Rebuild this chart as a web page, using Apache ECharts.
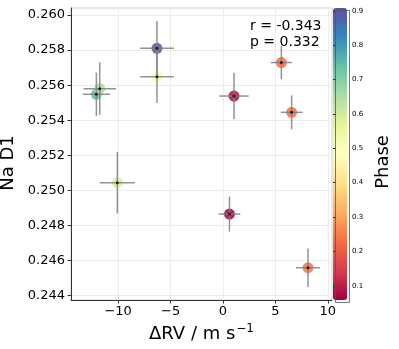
<!DOCTYPE html>
<html>
<head>
<meta charset="utf-8">
<script src="https://cdn.jsdelivr.net/npm/echarts@6/dist/echarts.min.js"></script>
<style>
  html, body { margin: 0; padding: 0; background: #fff; }
  #chart { width: 399px; height: 349px; }
</style>
</head>
<body>
<div id="chart"></div>
<script>
// values
const rvValues = [-12.08, -11.76, -6.30, -6.30, 1.05, 5.57, 6.55, -10.08, 0.62, 8.11]
const rvErrors = [1.30, 1.55, 1.62, 1.60, 1.40, 1.00, 1.05, 1.67, 1.03, 1.14]
const naValues = [0.25548, 0.25580, 0.25810, 0.25648, 0.25538, 0.25729, 0.25445, 0.25044, 0.24865, 0.24559]
const naErrors = [0.00124, 0.00150, 0.00156, 0.00150, 0.00133, 0.00095, 0.00097, 0.00176, 0.00100, 0.00110]
const phases = [0.74, 0.65, 0.908, 0.52, 0.075, 0.228, 0.23, 0.59, 0.0586, 0.237]

const xTicks = [-10, -5, 0, 5, 10]
const yTicks = [0.244, 0.246, 0.248, 0.250, 0.252, 0.254, 0.256, 0.258, 0.260]
const phaseTicks = [0.1, 0.2, 0.3, 0.4, 0.5, 0.6, 0.7, 0.8, 0.9]
const statText = ['r = -0.343', 'p = 0.332']

// matplotlib "Spectral", low -> high
const spectral = ['#9e0142', '#d53e4f', '#f46d43', '#fdae61', '#fee08b', '#ffffbf',
  '#e6f598', '#abdda4', '#66c2a5', '#3288bd', '#5e4fa2']

const FONT = 'DejaVu Sans'
const phaseMin = Math.min(...phases)
const phaseMax = Math.max(...phases)

const pts = rvValues.map((x, i) => [x, naValues[i], phases[i]])
const errs = rvValues.map((x, i) => [x, naValues[i], rvErrors[i], naErrors[i]])

const minus = v => String(v).replace('-', '\u2212')

let chart = echarts.init(document.getElementById('chart'), null, { renderer: 'canvas' })

let option = {
  animation: false,
  textStyle: { fontFamily: FONT },
  grid: [
    { left: 71, right: 67, top: 8, bottom: 49, show: true, borderColor: '#d0d0d0', borderWidth: 1, outerBoundsMode: 'none' },
    { left: 333, width: 14, top: 8, height: 292, show: false, outerBoundsMode: 'none' }
  ],
  xAxis: [
    {
      type: 'value', min: -14.5, max: 10.4,
      name: 'ΔRV / m s{sup|\u22121}',
      nameLocation: 'middle', nameGap: 5,
      nameTextStyle: {
        fontSize: 18, color: '#000', fontFamily: FONT,
        rich: { sup: { fontSize: 12, color: '#000', fontFamily: FONT, verticalAlign: 'top', padding: [0, 0, 10, 1] } }
      },
      axisLine: { show: true, onZero: false, lineStyle: { color: '#333', width: 1 } },
      axisTick: { show: true, length: 3.5, customValues: xTicks, lineStyle: { color: '#333' } },
      axisLabel: { customValues: xTicks, fontSize: 13, color: '#000', margin: 5, formatter: v => minus(v) },
      splitLine: { show: true, lineStyle: { color: '#ececec', width: 1 } }
    },
    { gridIndex: 1, type: 'value', min: 0, max: 1, show: false }
  ],
  yAxis: [
    {
      type: 'value', min: 0.24375, max: 0.2604,
      name: 'Na D1',
      nameLocation: 'middle', nameGap: 40, nameRotate: 90,
      nameTextStyle: { fontSize: 18, color: '#000', fontFamily: FONT, padding: [0, 18, 0, 0] },
      axisLine: { show: true, onZero: false, lineStyle: { color: '#333', width: 1 } },
      axisTick: { show: true, length: 3.5, customValues: yTicks, lineStyle: { color: '#333' } },
      axisLabel: { customValues: yTicks, fontSize: 13, color: '#000', margin: 6, formatter: v => v.toFixed(3) },
      splitLine: { show: true, lineStyle: { color: '#ececec', width: 1 } }
    },
    {
      gridIndex: 1, type: 'value', position: 'right', min: phaseMin, max: phaseMax, z: 10,
      name: 'Phase',
      nameLocation: 'middle', nameGap: 27, nameRotate: 90,
      nameTextStyle: { fontSize: 18, color: '#000', fontFamily: FONT, padding: [0, 16, 0, 0] },
      axisLine: { show: false },
      axisTick: { show: true, length: 3, customValues: phaseTicks, lineStyle: { color: '#333' } },
      axisLabel: { customValues: phaseTicks, fontSize: 7, color: '#000', margin: 5, formatter: v => v.toFixed(1) },
      splitLine: { show: false }
    }
  ],
  visualMap: {
    type: 'continuous',
    seriesIndex: 0,
    dimension: 2,
    min: phaseMin, max: phaseMax,
    calculable: false,
    hoverLink: false,
    left: 333, top: 8,
    itemWidth: 14, itemHeight: 292,
    padding: 0,
    borderWidth: 0,
    inRange: { color: spectral }
  },
  graphic: [
    {
      type: 'text', left: 250, top: 18, z: 20,
      style: { text: statText.join('\n'), fontSize: 14, lineHeight: 16.5, fill: '#000', fontFamily: FONT }
    },
    {
      type: 'rect', left: 333, top: 8, z: 20, silent: true,
      shape: { width: 14, height: 292 },
      style: { fill: 'none', stroke: '#555', lineWidth: 0.8 }
    }
  ],
  series: [
    {
      // coloured markers
      type: 'scatter',
      data: pts,
      symbolSize: 11,
      itemStyle: { opacity: 0.85 },
      z: 2
    },
    {
      // error bars
      type: 'custom',
      data: errs,
      z: 3,
      renderItem: (params, api) => {
        const x = api.value(0)
        const y = api.value(1)
        const xe = api.value(2)
        const ye = api.value(3)
        const l = api.coord([x - xe, y])
        const r = api.coord([x + xe, y])
        const t = api.coord([x, y + ye])
        const b = api.coord([x, y - ye])
        const style = { stroke: 'rgba(128,128,128,0.85)', lineWidth: 1.5 }
        return {
          type: 'group',
          children: [
            { type: 'line', shape: { x1: l[0], y1: l[1], x2: r[0], y2: r[1] }, style },
            { type: 'line', shape: { x1: t[0], y1: t[1], x2: b[0], y2: b[1] }, style }
          ]
        }
      }
    },
    {
      // centre dots
      type: 'scatter',
      data: pts,
      symbolSize: 3,
      itemStyle: { color: '#000' },
      z: 4
    }
  ]
}

chart.setOption(option)
</script>
</body>
</html>
